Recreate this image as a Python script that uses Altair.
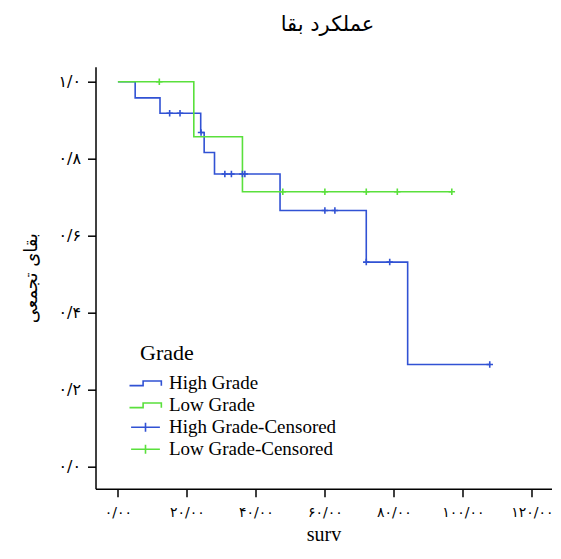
import altair as alt
import pandas as pd

# ---- data ----
groups = ["High Grade", "Low Grade", "High Grade-Censored", "Low Grade-Censored"]
colors = ["#3152d4", "#5ae03c", "#3152d4", "#5ae03c"]

high_t = [0, 5, 12.2, 24, 25, 28, 47, 72, 84, 108]
high_s = [1.0, 0.958, 0.918, 0.868, 0.816, 0.760, 0.665, 0.531, 0.265, 0.265]
low_t = [0, 22, 36.1, 96.8]
low_s = [1.0, 0.857, 0.714, 0.714]

high_cens_t = [15, 18, 24.1, 31, 32.9, 36.1, 36.8, 60, 62.9, 72, 78.8, 107.8]
high_cens_s = [0.918, 0.918, 0.868, 0.760, 0.760, 0.760, 0.760, 0.665, 0.665, 0.531, 0.531, 0.265]
low_cens_t = [12, 47.8, 60, 72, 81, 96.8]
low_cens_s = [1.0, 0.714, 0.714, 0.714, 0.714, 0.714]

x_ticks = [0, 20, 40, 60, 80, 100, 120]
x_labels = ["۰/۰۰", "۲۰/۰۰", "۴۰/۰۰", "۶۰/۰۰", "۸۰/۰۰", "۱۰۰/۰۰", "۱۲۰/۰۰"]
y_ticks = [0.0, 0.2, 0.4, 0.6, 0.8, 1.0]
y_labels = ["۰/۰", "۰/۲", "۰/۴", "۰/۶", "۰/۸", "۱/۰"]

title_text = "عملکرد بقا"
y_title = "بقای تجمعی"
x_title = "surv"
legend_title = "Grade"

# ---- tables ----
lines = pd.DataFrame(
    {"t": high_t + low_t,
     "s": high_s + low_s,
     "grp": [groups[0]] * len(high_t) + [groups[1]] * len(low_t)}
)
cens = pd.DataFrame(
    {"t": high_cens_t + low_cens_t,
     "s": high_cens_s + low_cens_s,
     "grp": [groups[2]] * len(high_cens_t) + [groups[3]] * len(low_cens_t)}
)
legend_only = pd.DataFrame({"grp": pd.Series([], dtype=str)})


def label_expr(vals, labels):
    expr = "''"
    for v, l in reversed(list(zip(vals, labels))):
        expr = f"abs(datum.value - {v}) < 1e-6 ? '{l}' : ({expr})"
    return expr


step_path = "M-2,0.3H-0.3V-0.28H1.98V0.32"
cross_path = "M-1.8,0H1.8M0,-0.56V0.56"
tick_path = "M-1,0H1M0,-1V1"

x_scale = alt.Scale(domain=[-6.5, 125.7], nice=False, zero=False)
y_scale = alt.Scale(domain=[-0.058, 1.039], nice=False, zero=False)
color_scale = alt.Scale(domain=groups, range=colors)
shape_scale = alt.Scale(domain=groups, range=[step_path, step_path, cross_path, cross_path])

x_axis = alt.Axis(values=x_ticks, labelExpr=label_expr(x_ticks, x_labels), title=x_title,
                  titleFont="Liberation Serif", titleFontSize=20, titleFontWeight="normal",
                  titleColor="black", labelFont="DejaVu Sans", labelFontSize=14,
                  labelColor="black", tickSize=8, tickWidth=1.5, tickColor="black",
                  domainColor="black", domainWidth=1.5, labelPadding=9, titlePadding=5,
                  grid=False, labelFlush=False, labelOverlap=False)
y_axis = alt.Axis(values=y_ticks, labelExpr=label_expr(y_ticks, y_labels), title=y_title,
                  titleFont="DejaVu Sans", titleFontSize=18, titleFontWeight="normal",
                  titleColor="black", labelFont="DejaVu Sans", labelFontSize=16,
                  labelColor="black", tickSize=8, tickWidth=1.5, tickColor="black",
                  domainColor="black", domainWidth=1.5, labelPadding=7, titlePadding=17,
                  grid=False, labelFlush=False, labelOverlap=False)

leg = alt.Legend(title=legend_title)

line_layer = alt.Chart(lines).mark_line(interpolate="step-after", strokeWidth=1.6).encode(
    x=alt.X("t:Q", scale=x_scale, axis=x_axis),
    y=alt.Y("s:Q", scale=y_scale, axis=y_axis),
    color=alt.Color("grp:N", scale=color_scale, legend=leg),
    detail="grp:N",
)

cens_layer = alt.Chart(cens).mark_point(
    filled=False, strokeWidth=1.6, size=42, opacity=1, shape=tick_path
).encode(
    x=alt.X("t:Q", scale=x_scale, axis=x_axis),
    y=alt.Y("s:Q", scale=y_scale, axis=y_axis),
    color=alt.Color("grp:N", scale=color_scale, legend=leg),
)

legend_layer = alt.Chart(legend_only).mark_point(filled=False, opacity=1).encode(
    color=alt.Color("grp:N", scale=color_scale, legend=leg),
    shape=alt.Shape("grp:N", scale=shape_scale, legend=leg),
)

chart = alt.layer(line_layer, cens_layer, legend_layer).properties(
    width=456,
    height=422,
    autosize=alt.AutoSizeParams(type="none"),
    padding={"left": 87.5, "top": 58.7, "right": 1, "bottom": 57},
    title=alt.TitleParams(text=title_text, font="DejaVu Sans", fontSize=21,
                          fontWeight="normal", color="black", anchor="middle",
                          frame="group", offset=32, dx=4),
).configure_view(stroke=None).configure_legend(
    orient="none", legendX=44.5, legendY=276,
    titleFont="Liberation Serif", titleFontSize=22, titleFontWeight="normal",
    titleColor="black", titlePadding=9,
    labelFont="Liberation Serif", labelFontSize=19, labelColor="black", labelLimit=400,
    symbolSize=256, symbolStrokeWidth=1.6, symbolFillColor="transparent",
    symbolOffset=-4, labelOffset=14, rowPadding=2,
)

chart.save("out.html", embed_options={"renderer": "svg", "actions": False})
